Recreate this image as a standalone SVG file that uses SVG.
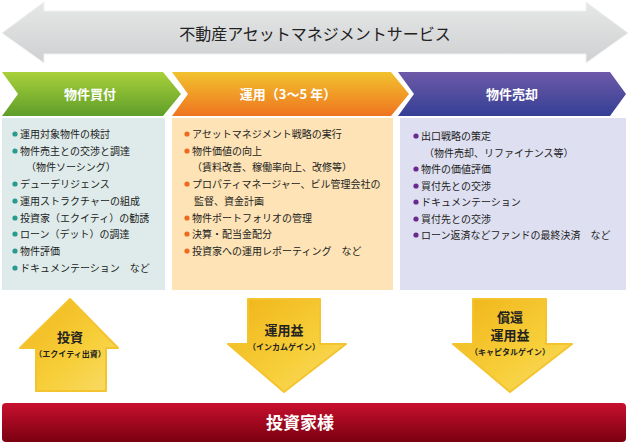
<svg xmlns="http://www.w3.org/2000/svg" width="630" height="445" viewBox="0 0 630 445">
<defs>
<linearGradient id="gGreen" x1="0" y1="0" x2="0" y2="1"><stop offset="0" stop-color="#a8d03a"/><stop offset="1" stop-color="#5f9e2a"/></linearGradient>
<linearGradient id="gOrange" x1="0" y1="0" x2="0" y2="1"><stop offset="0" stop-color="#f2c22e"/><stop offset="1" stop-color="#ee7420"/></linearGradient>
<linearGradient id="gPurple" x1="0" y1="0" x2="0" y2="1"><stop offset="0" stop-color="#6e5aa8"/><stop offset="1" stop-color="#343f95"/></linearGradient>
<linearGradient id="gGray" x1="0" y1="0" x2="0" y2="1"><stop offset="0" stop-color="#e6e7e7"/><stop offset="1" stop-color="#cfd0d1"/></linearGradient>
<linearGradient id="gRed" x1="0" y1="0" x2="0" y2="1"><stop offset="0" stop-color="#c8102e"/><stop offset="1" stop-color="#7a0010"/></linearGradient>
<linearGradient id="gGold" x1="0" y1="0" x2="1" y2="1"><stop offset="0" stop-color="#f0b418"/><stop offset="0.6" stop-color="#f7cf3a"/><stop offset="1" stop-color="#f9dc6a"/></linearGradient>
</defs>
<style>
.t{font-family:"Noto Sans CJK JP","Noto Sans",sans-serif;font-size:10px;fill:#222}
.w{font-family:"Noto Sans CJK JP","Noto Sans",sans-serif;fill:#fff;font-weight:bold;text-anchor:middle}
.a{font-family:"Noto Sans CJK JP","Noto Sans",sans-serif;fill:#222;font-weight:bold;text-anchor:middle}
.arr{fill:url(#gGold);stroke:#f4c430;stroke-width:2}
</style>
<g id="service">
<polygon points="2,33 44,2 44,11 586,11 586,2 628,33 586,63 586,54 44,54 44,63" fill="url(#gGray)" stroke="#f0f0f0" stroke-width="1"/>
<text x="315" y="40" class="a" style="font-size:16px;font-weight:normal">不動産アセットマネジメントサービス</text>
</g>
<g id="phase1">
<polygon points="2,72 163,72 181,94 163,116 2,116 18,94" fill="url(#gGreen)"/>
<text x="90" y="99" class="w" style="font-size:13px">物件買付</text>
<rect x="2" y="118" width="163" height="172" fill="#deebea"/>
</g>
<g id="phase2">
<polygon points="172,72 391,72 409,94 391,116 172,116 188,94" fill="url(#gOrange)"/>
<text x="288" y="99" class="w" style="font-size:13px">運用（3〜5 年）</text>
<rect x="172" y="118" width="221" height="172" fill="#fde3b5"/>
</g>
<g id="phase3">
<polygon points="398,72 610,72 626,94 610,116 398,116 414,94" fill="url(#gPurple)"/>
<text x="512" y="99" class="w" style="font-size:13px">物件売却</text>
<rect x="400" y="118" width="226" height="172" fill="#dedff0"/>
</g>
<g id="list1" class="t">
<g fill="#2a9a8f"><circle cx="15" cy="134" r="2.6"/><circle cx="15" cy="151" r="2.6"/><circle cx="15" cy="184" r="2.6"/><circle cx="15" cy="201" r="2.6"/><circle cx="15" cy="218" r="2.6"/><circle cx="15" cy="234" r="2.6"/><circle cx="15" cy="251" r="2.6"/><circle cx="15" cy="268" r="2.6"/></g>
<text x="20" y="138">運用対象物件の検討</text>
<text x="20" y="155">物件売主との交渉と調達</text>
<text x="26" y="171">（物件ソーシング）</text>
<text x="20" y="188">デューデリジェンス</text>
<text x="20" y="205">運用ストラクチャーの組成</text>
<text x="20" y="222">投資家（エクイティ）の勧誘</text>
<text x="20" y="238">ローン（デット）の調達</text>
<text x="20" y="255">物件評価</text>
<text x="20" y="272">ドキュメンテーション　など</text>
</g>
<g id="list2" class="t">
<g fill="#ee6a1f"><circle cx="187" cy="134" r="2.6"/><circle cx="187" cy="151" r="2.6"/><circle cx="187" cy="184" r="2.6"/><circle cx="187" cy="218" r="2.6"/><circle cx="187" cy="234" r="2.6"/><circle cx="187" cy="251" r="2.6"/></g>
<text x="192" y="138">アセットマネジメント戦略の実行</text>
<text x="192" y="155">物件価値の向上</text>
<text x="192" y="171">（賃料改善、稼働率向上、改修等）</text>
<text x="192" y="188">プロパティマネージャー、ビル管理会社の</text>
<text x="194" y="205">監督、資金計画</text>
<text x="192" y="222">物件ポートフォリオの管理</text>
<text x="192" y="238">決算・配当金配分</text>
<text x="192" y="255">投資家への運用レポーティング　など</text>
</g>
<g id="list3" class="t">
<g fill="#6a2a8c"><circle cx="416" cy="136" r="2.6"/><circle cx="416" cy="169" r="2.6"/><circle cx="416" cy="186" r="2.6"/><circle cx="416" cy="202" r="2.6"/><circle cx="416" cy="219" r="2.6"/><circle cx="416" cy="235" r="2.6"/></g>
<text x="421" y="140">出口戦略の策定</text>
<text x="424" y="157">（物件売却、リファイナンス等）</text>
<text x="421" y="173">物件の価値評価</text>
<text x="421" y="190">買付先との交渉</text>
<text x="421" y="206">ドキュメンテーション</text>
<text x="421" y="223">買付先との交渉</text>
<text x="421" y="239">ローン返済などファンドの最終決済　など</text>
</g>
<g id="invest">
<polygon class="arr" points="70,299 118,348 106,348 106,391 36,391 36,348 20,348" stroke-linejoin="round"/>
<text x="70" y="342" class="a" style="font-size:13px">投資</text>
<text x="70" y="357" class="a" style="font-size:8px">（エクイティ出資）</text>
</g>
<g id="income">
<polygon class="arr" points="248,299 320,299 320,344 346,344 284,392 228,344 248,344" stroke-linejoin="round"/>
<text x="284" y="335" class="a" style="font-size:13px">運用益</text>
<text x="284" y="350" class="a" style="font-size:8px">（インカムゲイン）</text>
</g>
<g id="capital">
<polygon class="arr" points="473,299 546,299 546,344 572,344 510,392 453,344 473,344" stroke-linejoin="round"/>
<text x="510" y="322" class="a" style="font-size:13px">償還</text>
<text x="510" y="340" class="a" style="font-size:13px">運用益</text>
<text x="510" y="355" class="a" style="font-size:8px">（キャピタルゲイン）</text>
</g>
<g id="investors">
<rect x="2" y="403" width="624" height="39" rx="4" fill="url(#gRed)"/>
<text x="300" y="429" class="w" style="font-size:17px">投資家様</text>
</g>
<g id="connectors"/>
</svg>
